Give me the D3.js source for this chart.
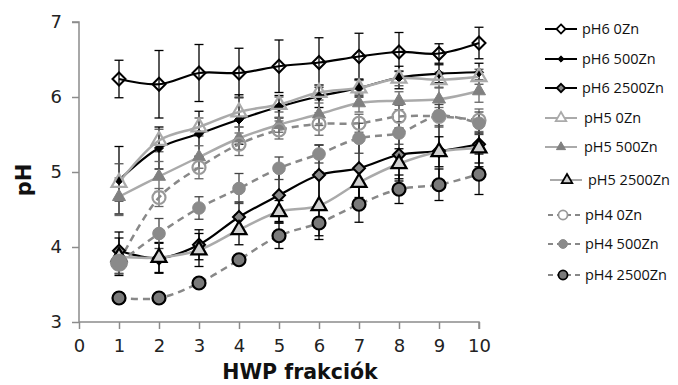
<!DOCTYPE html>
<html><head><meta charset="utf-8">
<script src="https://cdn.jsdelivr.net/npm/d3@7"></script>
<style>body{margin:0;background:#fff}svg{display:block}</style>
</head><body>
<script>
const fractions = [1,2,3,4,5,6,7,8,9,10];
const xTicks = [0,1,2,3,4,5,6,7,8,9,10];
const yTicks = [3,4,5,6,7];
const seriesNames = ["pH6 0Zn","pH6 500Zn","pH6 2500Zn","pH5 0Zn","pH5 500Zn","pH5 2500Zn","pH4 0Zn","pH4 500Zn","pH4 2500Zn"];
const pH6_0Zn    = [6.24,6.17,6.32,6.32,6.41,6.46,6.54,6.60,6.58,6.72];
const pH6_500Zn  = [4.89,5.32,5.51,5.70,5.87,6.01,6.12,6.26,6.31,6.33];
const pH6_2500Zn = [3.95,3.85,4.03,4.40,4.69,4.96,5.05,5.23,5.28,5.37];
const pH5_0Zn    = [4.86,5.42,5.60,5.80,5.90,6.06,6.12,6.25,6.23,6.27];
const pH5_500Zn  = [4.67,4.94,5.20,5.45,5.63,5.77,5.92,5.95,5.97,6.08];
const pH5_2500Zn = [3.87,3.86,3.96,4.23,4.47,4.55,4.86,5.11,5.27,5.32];
const pH4_0Zn    = [3.80,4.66,5.06,5.37,5.56,5.64,5.65,5.74,5.74,5.69];
const pH4_500Zn  = [3.79,4.18,4.52,4.78,5.05,5.24,5.45,5.52,5.75,5.65];
const pH4_2500Zn = [3.32,3.32,3.52,3.83,4.15,4.32,4.57,4.77,4.83,4.97];
const err_pH6_0Zn    = [0.25,0.45,0.38,0.33,0.35,0.33,0.31,0.26,0.13,0.21];
const err_pH6_500Zn  = [0.45,0.28,0.30,0.33,0.15,0.15,0.12,0.15,0.12,0.12];
const err_pH6_2500Zn = [0.25,0.20,0.20,0.20,0.35,0.40,0.45,0.35,0.40,0.30];
const err_pH5_0Zn    = [0.25,0.15,0.12,0.20,0.10,0.10,0.10,0.10,0.10,0.10];
const err_pH5_500Zn  = [0.25,0.20,0.15,0.15,0.10,0.15,0.12,0.12,0.15,0.15];
const err_pH5_2500Zn = [0.25,0.20,0.22,0.20,0.15,0.45,0.20,0.20,0.20,0.20];
const err_pH4_0Zn    = [0.15,0.12,0.15,0.15,0.12,0.15,0.12,0.15,0.12,0.15];
const err_pH4_500Zn  = [0.15,0.20,0.15,0.20,0.15,0.12,0.20,0.15,0.15,0.15];
const err_pH4_2500Zn = [0.07,0.02,0.03,0.03,0.17,0.17,0.24,0.19,0.21,0.27];

const values = [pH6_0Zn,pH6_500Zn,pH6_2500Zn,pH5_0Zn,pH5_500Zn,pH5_2500Zn,pH4_0Zn,pH4_500Zn,pH4_2500Zn];
const errors = [err_pH6_0Zn,err_pH6_500Zn,err_pH6_2500Zn,err_pH5_0Zn,err_pH5_500Zn,err_pH5_2500Zn,err_pH4_0Zn,err_pH4_500Zn,err_pH4_2500Zn];

const styles = [
  {line:"#000", dash:null, w:2.2, shape:"diamond", r:6.5, fill:"none", stroke:"#000", sw:2, eb:"#000"},
  {line:"#000", dash:null, w:2.2, shape:"diamond", r:4.5, fill:"#000", stroke:"#000", sw:1, eb:"#000"},
  {line:"#000", dash:null, w:2.2, shape:"diamond", r:6, fill:"#888", stroke:"#000", sw:2, eb:"#000"},
  {line:"#aaa", dash:null, w:2.5, shape:"triangle", r:7.5, fill:"none", stroke:"#aaa", sw:2.2, eb:"#555"},
  {line:"#aaa", dash:null, w:2.5, shape:"triangle", r:6.5, fill:"#808080", stroke:"#808080", sw:1, eb:"#666"},
  {line:"#aaa", dash:null, w:2.5, shape:"triangle", r:7.5, fill:"#d0d0d0", stroke:"#000", sw:2.2, eb:"#000"},
  {line:"#888", dash:"7,5", w:2.5, shape:"circle", r:6.5, fill:"none", stroke:"#999", sw:2.2, eb:"#666"},
  {line:"#888", dash:"7,5", w:2.5, shape:"circle", r:6.3, fill:"#8a8a8a", stroke:"#8a8a8a", sw:1, eb:"#444"},
  {line:"#888", dash:"7,5", w:2.5, shape:"circle", r:6.5, fill:"#7a7a7a", stroke:"#000", sw:2.2, eb:"#000"}
];

function shapePath(shape, r){
  if(shape==="diamond") return `M0,${-r}L${r},0L0,${r}L${-r},0Z`;
  if(shape==="triangle") return `M0,${-r*1.15}L${r},${r*0.58}L${-r},${r*0.58}Z`;
  const p=d3.path(); p.arc(0,0,r,0,2*Math.PI); p.closePath(); return p.toString();
}

const W=678,H=385;
const svg=d3.select("body").append("svg").attr("width",W).attr("height",H);
const x=d3.scaleLinear().domain([0,10]).range([79,479]);
const y=d3.scaleLinear().domain([3,7]).range([322,22]);
const font="DejaVu Sans";

const yAxis=svg.append("g").attr("transform","translate(79,0)")
  .call(d3.axisLeft(y).tickValues(yTicks).tickSize(7).tickPadding(10).tickFormat(d3.format("d")));
const xAxis=svg.append("g").attr("transform","translate(0,322)")
  .call(d3.axisBottom(x).tickValues(xTicks).tickSize(7).tickPadding(10).tickFormat(d3.format("d")));
[yAxis,xAxis].forEach(g=>{
  g.selectAll("path").attr("stroke","#8c8c8c").attr("stroke-width",1.5);
  g.selectAll("line").attr("stroke","#8c8c8c").attr("stroke-width",1.5);
  g.selectAll("text").attr("font-family",font).attr("font-size",18).attr("fill","#222");
});
yAxis.select("path").attr("d","M0,322V22H-7");
xAxis.select("path").attr("d","M79,0H479V7");

svg.append("text").attr("x",300).attr("y",379).attr("text-anchor","middle")
  .attr("font-family",font).attr("font-weight","bold").attr("font-size",20.5).attr("fill","#111").text("HWP frakciók");
svg.append("text").attr("transform","translate(31,180) rotate(-90)").attr("text-anchor","middle")
  .attr("font-family",font).attr("font-weight","bold").attr("font-size",21).attr("fill","#111").text("pH");

const plot=svg.append("g");
values.forEach((vals,si)=>{
  const st=styles[si];
  const g=plot.append("g");
  fractions.forEach((f,i)=>{
    const v=vals[i], e=errors[si][i];
    const cx=x(f);
    g.append("line").attr("x1",cx).attr("x2",cx).attr("y1",y(v+e)).attr("y2",y(v-e)).attr("stroke",st.eb).attr("stroke-width",1.3);
    [v+e,v-e].forEach(t=>g.append("line").attr("x1",cx-4.5).attr("x2",cx+4.5).attr("y1",y(t)).attr("y2",y(t)).attr("stroke",st.eb).attr("stroke-width",1.3));
  });
});
const line=d3.line().x(d=>x(d[0])).y(d=>y(d[1])).curve(d3.curveCatmullRom.alpha(0.5));
values.forEach((vals,si)=>{
  const st=styles[si];
  const pts=fractions.map((f,i)=>[f,vals[i]]);
  plot.append("path").attr("d",line(pts)).attr("fill","none").attr("stroke",st.line).attr("stroke-width",st.w)
    .attr("stroke-dasharray",st.dash);
});
values.forEach((vals,si)=>{
  const st=styles[si];
  const pts=fractions.map((f,i)=>[f,vals[i]]);
  plot.append("g").selectAll("path").data(pts).join("path")
    .attr("transform",d=>`translate(${x(d[0])},${y(d[1])})`)
    .attr("d",(d,i)=>shapePath(st.shape, (si===7&&i===0)?8.5:st.r))
    .attr("fill",st.fill).attr("stroke",st.stroke).attr("stroke-width",st.sw);
});

const legRows=[
  {y:29,x1:545,x2:577,m:561,t:582},
  {y:59,x1:545,x2:577,m:561,t:582},
  {y:88,x1:545,x2:577,m:561,t:582},
  {y:118,x1:545,x2:577,m:561,t:584},
  {y:147,x1:545,x2:577,m:561,t:584},
  {y:180,x1:550,x2:582,m:567,t:588},
  {y:215,x1:548,x2:580,m:563,t:585},
  {y:244,x1:548,x2:580,m:563,t:585},
  {y:275,x1:548,x2:580,m:563,t:585}
];
seriesNames.forEach((name,si)=>{
  const st=styles[si], r=legRows[si];
  const g=svg.append("g");
  g.append("line").attr("x1",r.x1).attr("x2",r.x2).attr("y1",r.y).attr("y2",r.y)
    .attr("stroke",st.line).attr("stroke-width",2).attr("stroke-dasharray",st.dash?"5,4":null);
  g.append("path").attr("transform",`translate(${r.m},${r.y})`).attr("d",shapePath(st.shape,st.r*0.7))
    .attr("fill",st.fill==="none"?"#fff":st.fill).attr("stroke",st.stroke).attr("stroke-width",Math.min(st.sw,1.8));
  g.append("text").attr("x",r.t).attr("y",r.y+5).attr("font-family","Open Sans").attr("font-size",14.5).attr("fill","#111").text(name);
});
</script>
</body></html>
